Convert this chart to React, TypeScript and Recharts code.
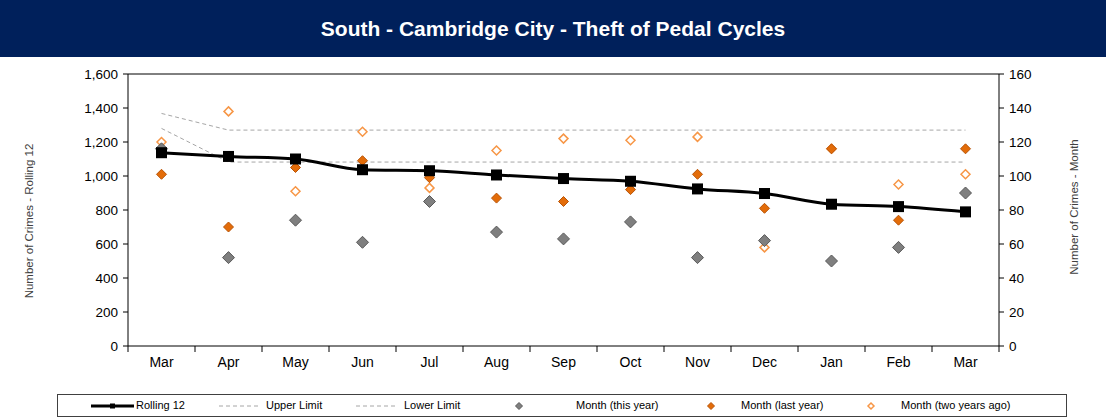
import React from 'react';
import { ComposedChart, Line, XAxis, YAxis, ReferenceLine, Label } from 'recharts';

const months = ['Mar', 'Apr', 'May', 'Jun', 'Jul', 'Aug', 'Sep', 'Oct', 'Nov', 'Dec', 'Jan', 'Feb', 'Mar'];
const rolling12 = [1137, 1115, 1100, 1037, 1031, 1006, 985, 969, 924, 897, 834, 820, 789];
const upperLimit = [1368, 1270, 1270, 1270, 1270, 1270, 1270, 1270, 1270, 1270, 1270, 1270, 1270];
const lowerLimit = [1280, 1082, 1082, 1082, 1082, 1082, 1082, 1082, 1082, 1082, 1082, 1082, 1082];
const thisYear = [116, 52, 74, 61, 85, 67, 63, 73, 52, 62, 50, 58, 90];
const lastYear = [101, 70, 105, 109, 99, 87, 85, 92, 101, 81, 116, 74, 116];
const twoYearsAgo = [120, 138, 91, 126, 93, 115, 122, 121, 123, 58, 116, 95, 101];

const leftTicks = [0, 200, 400, 600, 800, 1000, 1200, 1400, 1600];
const rightTicks = [0, 20, 40, 60, 80, 100, 120, 140, 160];

const data = months.map((m, i) => ({
  month: m,
  rolling: rolling12[i],
  upper: upperLimit[i],
  lower: lowerLimit[i],
  thisYear: thisYear[i],
  lastYear: lastYear[i],
  twoYears: twoYearsAgo[i],
}));

const W = 1106;
const H = 418;
const PLOT_LEFT = 128;
const PLOT_RIGHT = 999;
const HALF_BAND = (PLOT_RIGHT - PLOT_LEFT) / months.length / 2;
const FONT = '"Liberation Sans", Arial, sans-serif';

const diamond = (fill: string, stroke: string, r: number, sw = 1) => (props: any) => {
  const { cx, cy, index } = props;
  if (cx == null || cy == null) return null;
  return (
    <polygon
      key={`d-${index}`}
      points={`${cx},${cy - r} ${cx + r},${cy} ${cx},${cy + r} ${cx - r},${cy}`}
      fill={fill}
      stroke={stroke}
      strokeWidth={sw}
    />
  );
};

const squareDot = (props: any) => {
  const { cx, cy, index } = props;
  if (cx == null || cy == null) return null;
  return <rect key={`s-${index}`} x={cx - 5.5} y={cy - 5.5} width={11} height={11} fill="#000" />;
};

const XTick = (props: any) => {
  const { x, y, payload, index } = props;
  return (
    <g>
      <line x1={x + HALF_BAND} x2={x + HALF_BAND} y1={y - 6} y2={y} stroke="#000" />
      {index === 0 && <line x1={x - HALF_BAND} x2={x - HALF_BAND} y1={y - 6} y2={y} stroke="#000" />}
      <text x={x} y={y + 15} textAnchor="middle" fontSize={14} fontFamily={FONT} fill="#000">
        {payload.value}
      </text>
    </g>
  );
};

function LegendBox() {
  const txt: React.CSSProperties = { position: 'absolute', top: 4, fontSize: 11, fontFamily: FONT, color: '#000', whiteSpace: 'nowrap' };
  return (
    <div style={{ position: 'absolute', left: 57, top: 394, width: 1008, height: 21, border: '1px solid #404040', background: '#fff' }}>
      <svg width={1008} height={21} style={{ position: 'absolute', left: 0, top: 0 }}>
        <line x1={33} x2={76} y1={11} y2={11} stroke="#000" strokeWidth={3} />
        <rect x={52} y={8.5} width={5} height={5} fill="#000" />
        <line x1={161} x2={203} y1={11} y2={11} stroke="#A6A6A6" strokeDasharray="4 3" />
        <line x1={298} x2={340} y1={11} y2={11} stroke="#A6A6A6" strokeDasharray="4 3" />
        <polygon points="461,7.5 464.5,11 461,14.5 457.5,11" fill="#7F7F7F" stroke="#595959" />
        <polygon points="653,7.5 656.5,11 653,14.5 649.5,11" fill="#E36C09" stroke="#B85407" />
        <polygon points="813,8 816,11 813,14 810,11" fill="#fff" stroke="#F79646" strokeWidth={1.5} />
      </svg>
      <span style={{ ...txt, left: 78 }}>Rolling 12</span>
      <span style={{ ...txt, left: 208 }}>Upper Limit</span>
      <span style={{ ...txt, left: 346 }}>Lower Limit</span>
      <span style={{ ...txt, left: 518 }}>Month (this year)</span>
      <span style={{ ...txt, left: 683 }}>Month (last year)</span>
      <span style={{ ...txt, left: 843 }}>Month (two years ago)</span>
    </div>
  );
}

export default function App() {
  return (
    <div style={{ position: 'absolute', left: 0, top: 0, width: W, height: H, background: '#fff', overflow: 'hidden' }}>
      <div
        style={{
          position: 'absolute', left: 0, top: 0, width: W, height: 57,
          background: '#00205B', color: '#fff', fontFamily: FONT, fontWeight: 'bold',
          fontSize: 21, display: 'flex', alignItems: 'center', justifyContent: 'center',
        }}
      >
        South - Cambridge City - Theft of Pedal Cycles
      </div>
      <div style={{ position: 'absolute', left: 0, top: 0 }}>
        <ComposedChart width={W} height={H} data={data} margin={{ top: 74, right: 57, bottom: 42, left: 58 }}>
          <XAxis
            dataKey="month"
            xAxisId="x"
            height={30}
            tickSize={6}
            tickMargin={0}
            tickLine={false}
            axisLine={{ stroke: '#000' }}
            tick={<XTick />}
            interval={0}
            padding={{ left: HALF_BAND, right: HALF_BAND }}
          />
          <YAxis
            yAxisId="left"
            width={70}
            domain={[0, 1600]}
            ticks={leftTicks}
            tickSize={5}
            tickMargin={5}
            tickLine={{ stroke: '#000' }}
            axisLine={{ stroke: '#000' }}
            tick={{ fontSize: 13.5, fill: '#000', fontFamily: FONT }}
            tickFormatter={(v: number) => v.toLocaleString('en-GB')}
          >
            <Label
              content={({ viewBox }: any) => (
                <text
                  x={viewBox.x - 28}
                  y={221}
                  transform={`rotate(-90, ${viewBox.x - 28}, 221)`}
                  textAnchor="middle"
                  dominantBaseline="middle"
                  fontSize={11.5}
                  fontFamily={FONT}
                  fill="#404040"
                >
                  Number of Crimes - Rolling 12
                </text>
              )}
            />
          </YAxis>
          <YAxis
            yAxisId="right"
            orientation="right"
            width={50}
            domain={[0, 160]}
            ticks={rightTicks}
            tickSize={5}
            tickMargin={5}
            tickLine={{ stroke: '#000' }}
            axisLine={{ stroke: '#000' }}
            tick={{ fontSize: 13.5, fill: '#000', fontFamily: FONT }}
          >
            <Label
              content={() => (
                <text
                  x={1075}
                  y={207}
                  transform="rotate(-90, 1075, 207)"
                  textAnchor="middle"
                  dominantBaseline="middle"
                  fontSize={11.5}
                  fontFamily={FONT}
                  fill="#404040"
                >
                  Number of Crimes - Month
                </text>
              )}
            />
          </YAxis>
          <ReferenceLine y={1600} yAxisId="left" xAxisId="x" stroke="#000" />
          <Line xAxisId="x" yAxisId="left" dataKey="upper" type="linear" stroke="#A6A6A6" strokeWidth={1} strokeDasharray="4 3" dot={false} isAnimationActive={false} />
          <Line xAxisId="x" yAxisId="left" dataKey="lower" type="linear" stroke="#A6A6A6" strokeWidth={1} strokeDasharray="4 3" dot={false} isAnimationActive={false} />
          <Line xAxisId="x" yAxisId="right" dataKey="twoYears" stroke="none" dot={diamond('#fff', '#F79646', 4.5, 1.5)} activeDot={false} isAnimationActive={false} />
          <Line xAxisId="x" yAxisId="right" dataKey="lastYear" stroke="none" dot={diamond('#E36C09', '#B85407', 5)} activeDot={false} isAnimationActive={false} />
          <Line xAxisId="x" yAxisId="right" dataKey="thisYear" stroke="none" dot={diamond('#7F7F7F', '#595959', 6)} activeDot={false} isAnimationActive={false} />
          <Line xAxisId="x" yAxisId="left" dataKey="rolling" type="monotone" stroke="#000" strokeWidth={3} dot={squareDot} activeDot={false} isAnimationActive={false} />
        </ComposedChart>
      </div>
      <LegendBox />
    </div>
  );
}
